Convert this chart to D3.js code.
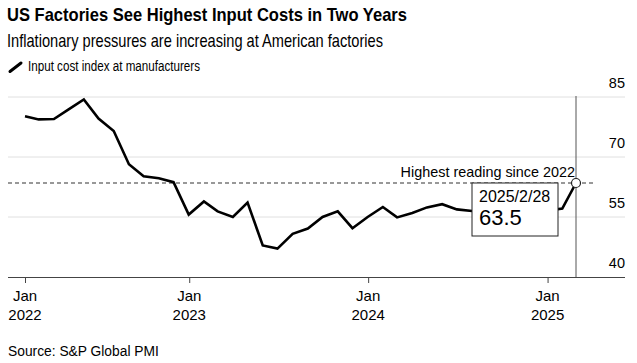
<!DOCTYPE html>
<html>
<head>
<meta charset="utf-8">
<script src="https://cdn.jsdelivr.net/npm/d3@7"></script>
<style>
  body { margin: 0; background: #fff; }
  text { font-family: "Liberation Sans", Arial, sans-serif; fill: #000; }
</style>
</head>
<body>
<svg id="chart" width="637" height="363"></svg>
<script>
// monthly readings, Jan 2022 - Feb 2025
var months = ["2022-01","2022-02","2022-03","2022-04","2022-05","2022-06","2022-07","2022-08","2022-09","2022-10","2022-11","2022-12",
  "2023-01","2023-02","2023-03","2023-04","2023-05","2023-06","2023-07","2023-08","2023-09","2023-10","2023-11","2023-12",
  "2024-01","2024-02","2024-03","2024-04","2024-05","2024-06","2024-07","2024-08","2024-09","2024-10","2024-11","2024-12",
  "2025-01","2025-02"];
var inputCost = [80.2,79.4,79.5,81.9,84.4,79.6,76.5,68.2,65.2,64.7,63.7,55.6,
  58.9,56.4,55.0,58.6,47.9,47.1,50.8,52.1,55.0,56.4,52.2,55.0,
  57.5,54.9,56.0,57.4,58.2,56.9,56.5,56.3,56.9,56.2,55.9,56.6,
  57.1,63.5];
var yTicks = [40,55,70,85];
var xTicks = ["2022-01","2023-01","2024-01","2025-01"];
var highest = 63.5;

var svg = d3.select("#chart");
var plotLeft = 8, plotRight = 625, plotTop = 97, plotBottom = 277;

// dates are month ends
var parseMonth = d3.utcParse("%Y-%m");
var monthEnd = function(s){ return d3.utcDay.offset(d3.utcMonth.offset(parseMonth(s),1),-1); };
var data = months.map(function(m,i){ return {date: monthEnd(m), value: inputCost[i]}; });

var x = d3.scaleUtc().domain(d3.extent(data,function(d){return d.date;})).range([25,576]);
var y = d3.scaleLinear().domain([40,85]).range([plotBottom,plotTop]);

// titles (the original face is a condensed grotesque, so squeeze to width)
svg.append("text").attr("x",7).attr("y",21).style("font-size","19px").style("font-weight","bold")
  .attr("textLength",400).attr("lengthAdjust","spacingAndGlyphs")
  .text("US Factories See Highest Input Costs in Two Years");
svg.append("text").attr("x",7).attr("y",47).style("font-size","18.5px")
  .attr("textLength",376).attr("lengthAdjust","spacingAndGlyphs")
  .text("Inflationary pressures are increasing at American factories");
svg.append("line").attr("x1",10).attr("y1",71.5).attr("x2",21).attr("y2",63)
  .attr("stroke","#000").attr("stroke-width",3).attr("stroke-linecap","round");
svg.append("text").attr("x",28).attr("y",71).style("font-size","14px")
  .attr("textLength",172).attr("lengthAdjust","spacingAndGlyphs")
  .text("Input cost index at manufacturers");

// grid
svg.append("g").selectAll("line").data(yTicks.filter(function(t){return t>40;})).join("line")
  .attr("x1",plotLeft).attr("x2",plotRight)
  .attr("y1",function(d){return y(d);}).attr("y2",function(d){return y(d);})
  .attr("stroke","#e0e0e0").attr("stroke-width",1);
svg.append("g").selectAll("text").data(yTicks).join("text")
  .attr("x",plotRight).attr("y",function(d){return y(d)-9;})
  .attr("text-anchor","end").style("font-size","14.5px")
  .text(function(d){return d;});

// x axis
var tickDates = xTicks.map(function(t,i){ return i===0 ? x.domain()[0] : parseMonth(t); });
var xAxis = svg.append("g").attr("transform","translate(0,"+plotBottom+")")
  .call(d3.axisBottom(x).tickValues(tickDates).tickSize(6).tickFormat(""));
xAxis.select(".domain").remove();
xAxis.selectAll(".tick line").attr("stroke","#444");
svg.append("line").attr("x1",plotLeft).attr("x2",plotRight).attr("y1",plotBottom+0.5).attr("y2",plotBottom+0.5)
  .attr("stroke","#444").attr("stroke-width",1);
var lab = svg.append("g").selectAll("text").data(tickDates).join("text")
  .attr("text-anchor","middle").style("font-size","15px")
  .attr("transform",function(d){return "translate("+x(d)+",0)";});
lab.append("tspan").attr("x",0).attr("y",301).text("Jan");
lab.append("tspan").attr("x",0).attr("y",320).text(function(d){return d3.utcFormat("%Y")(d);});

// reference line
svg.append("line").attr("x1",plotLeft).attr("x2",593)
  .attr("y1",y(highest)).attr("y2",y(highest))
  .attr("stroke","#333").attr("stroke-width",1.2).attr("stroke-dasharray","4,3");

// cursor line
var last = data[data.length-1];
svg.append("line").attr("x1",x(last.date)).attr("x2",x(last.date)).attr("y1",plotTop-1).attr("y2",plotBottom)
  .attr("stroke","#555").attr("stroke-width",1);

// series
svg.append("path").datum(data)
  .attr("fill","none").attr("stroke","#000").attr("stroke-width",2.6)
  .attr("d",d3.line().x(function(d){return x(d.date);}).y(function(d){return y(d.value);}));

svg.append("text").attr("x",575).attr("y",177).attr("text-anchor","end").style("font-size","14.4px")
  .text("Highest reading since 2022");

// tooltip box
var tip = svg.append("g").attr("transform","translate(472,183)");
tip.append("rect").attr("width",86).attr("height",53).attr("fill","#fff").attr("stroke","#222").attr("stroke-width",1);
tip.append("text").attr("x",7).attr("y",19).style("font-size","16px").text(d3.utcFormat("%Y/%-m/%-d")(last.date));
tip.append("text").attr("x",7).attr("y",42).style("font-size","22px").text(last.value.toFixed(1));

svg.append("circle").attr("cx",x(last.date)).attr("cy",y(last.value)).attr("r",4.5)
  .attr("fill","#fff").attr("stroke","#222").attr("stroke-width",1.2);

svg.append("text").attr("x",8).attr("y",356).style("font-size","13.8px").text("Source: S&P Global PMI");
</script>
</body>
</html>
